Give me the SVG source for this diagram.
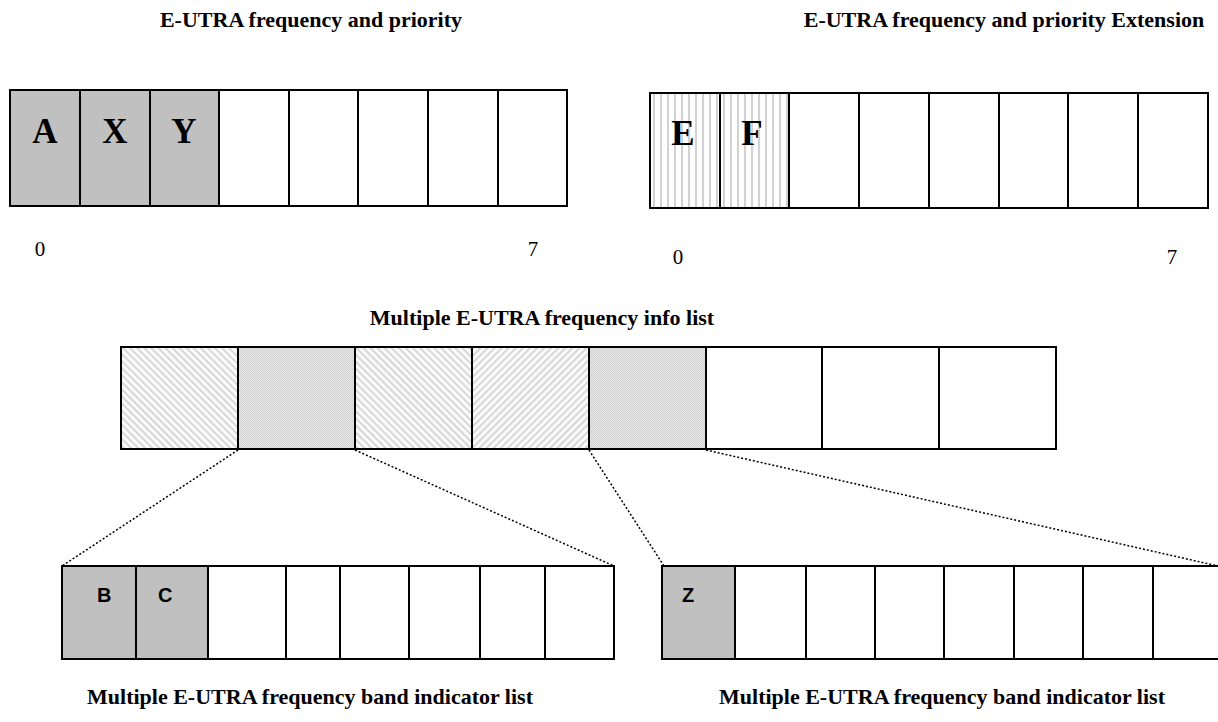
<svg xmlns="http://www.w3.org/2000/svg" width="1218" height="722" viewBox="0 0 1218 722">
<style>
.title{font-family:"Liberation Serif","Times New Roman",serif;font-weight:bold;font-size:22px;text-anchor:middle;fill:#000}
.big{font-family:"Liberation Serif","Times New Roman",serif;font-weight:bold;font-size:35px;text-anchor:middle;fill:#000}
.sans{font-family:"Liberation Sans",Arial,sans-serif;font-weight:bold;font-size:20px;fill:#000}
.num{font-family:"Liberation Serif","Times New Roman",serif;font-size:21px;text-anchor:middle;fill:#000}
.cell{stroke:#000;stroke-width:2;fill:#fff}
.grey{fill:#c0c0c0}
.vl{fill:url(#vlines)}
.da{fill:url(#diagA)}
.db{fill:url(#diagB)}
.dt{fill:url(#dots)}
.conn{stroke:#000;stroke-width:1.5;stroke-dasharray:2 2;fill:none}
</style>
<defs>
<pattern id="vlines" patternUnits="userSpaceOnUse" width="7" height="7">
<rect width="7" height="7" fill="#fff"/>
<rect x="2" y="0" width="2" height="7" fill="#d2d2d2"/>
</pattern>
<pattern id="diagA" patternUnits="userSpaceOnUse" width="5" height="5" patternTransform="rotate(-45)">
<rect width="5" height="5" fill="#fafafa"/>
<rect x="0" y="0" width="1.6" height="5" fill="#d0d0d0"/>
</pattern>
<pattern id="diagB" patternUnits="userSpaceOnUse" width="5" height="5" patternTransform="rotate(45)">
<rect width="5" height="5" fill="#fafafa"/>
<rect x="0" y="0" width="1.6" height="5" fill="#d0d0d0"/>
</pattern>
<pattern id="dots" patternUnits="userSpaceOnUse" width="2" height="2">
<rect width="2" height="2" fill="#ebebeb"/>
<rect x="0" y="0" width="1" height="1" fill="#cdcdcd"/>
<rect x="1" y="1" width="1" height="1" fill="#cdcdcd"/>
</pattern>
</defs>
<rect width="1218" height="722" fill="#fff"/>

<text class="title" x="311" y="27">E-UTRA frequency and priority</text>
<text class="title" x="1004" y="27">E-UTRA frequency and priority Extension</text>
<text class="title" x="542" y="325">Multiple E-UTRA frequency info list</text>
<text class="title" x="310" y="704">Multiple E-UTRA frequency band indicator list</text>
<text class="title" x="942" y="704">Multiple E-UTRA frequency band indicator list</text>

<g id="priority">
<rect class="cell grey" x="10" y="90" width="70" height="116"/>
<rect class="cell grey" x="80" y="90" width="70" height="116"/>
<rect class="cell grey" x="150" y="90" width="69" height="116"/>
<rect class="cell" x="219" y="90" width="70" height="116"/>
<rect class="cell" x="289" y="90" width="69" height="116"/>
<rect class="cell" x="358" y="90" width="70" height="116"/>
<rect class="cell" x="428" y="90" width="70" height="116"/>
<rect class="cell" x="498" y="90" width="69" height="116"/>
<text class="big" x="45" y="143">A</text>
<text class="big" x="115" y="143">X</text>
<text class="big" x="184" y="143">Y</text>
<text class="num" x="40" y="256">0</text>
<text class="num" x="533" y="256">7</text>
</g>

<g id="priority-ext">
<rect class="cell vl" x="650" y="93" width="70" height="115"/>
<rect class="cell vl" x="720" y="93" width="69" height="115"/>
<rect class="cell" x="789" y="93" width="70" height="115"/>
<rect class="cell" x="859" y="93" width="70" height="115"/>
<rect class="cell" x="929" y="93" width="70" height="115"/>
<rect class="cell" x="999" y="93" width="69" height="115"/>
<rect class="cell" x="1068" y="93" width="70" height="115"/>
<rect class="cell" x="1138" y="93" width="70" height="115"/>
<text class="big" x="683" y="145">E</text>
<text class="big" x="752" y="145">F</text>
<text class="num" x="678" y="264">0</text>
<text class="num" x="1172" y="264">7</text>
</g>

<g id="freq-info-list">
<rect class="cell da" x="121" y="347" width="117" height="102"/>
<rect class="cell dt" x="238" y="347" width="117" height="102"/>
<rect class="cell da" x="355" y="347" width="117" height="102"/>
<rect class="cell db" x="472" y="347" width="117" height="102"/>
<rect class="cell dt" x="589" y="347" width="117" height="102"/>
<rect class="cell" x="706" y="347" width="116" height="102"/>
<rect class="cell" x="822" y="347" width="117" height="102"/>
<rect class="cell" x="939" y="347" width="117" height="102"/>
</g>

<g id="connectors">
<line class="conn" x1="238" y1="450" x2="62" y2="566"/>
<line class="conn" x1="355" y1="450" x2="614" y2="566"/>
<line class="conn" x1="589" y1="450" x2="664" y2="566"/>
<line class="conn" x1="706" y1="450" x2="1218" y2="566"/>
</g>

<g id="band-list-1">
<rect class="cell grey" x="62" y="566" width="74" height="93"/>
<rect class="cell grey" x="136" y="566" width="72" height="93"/>
<rect class="cell" x="208" y="566" width="78" height="93"/>
<rect class="cell" x="286" y="566" width="54" height="93"/>
<rect class="cell" x="340" y="566" width="69" height="93"/>
<rect class="cell" x="409" y="566" width="71" height="93"/>
<rect class="cell" x="480" y="566" width="65" height="93"/>
<rect class="cell" x="545" y="566" width="69" height="93"/>
<text class="sans" x="97" y="602">B</text>
<text class="sans" x="158" y="602">C</text>
</g>

<g id="band-list-2">
<rect class="cell grey" x="662" y="566" width="73" height="93"/>
<rect class="cell" x="735" y="566" width="71" height="93"/>
<rect class="cell" x="806" y="566" width="69" height="93"/>
<rect class="cell" x="875" y="566" width="69" height="93"/>
<rect class="cell" x="944" y="566" width="70" height="93"/>
<rect class="cell" x="1014" y="566" width="69" height="93"/>
<rect class="cell" x="1083" y="566" width="70" height="93"/>
<path d="M1153 566 H1218 M1153 659 H1218" stroke="#000" stroke-width="2" fill="none"/>
<text class="sans" x="682" y="602">Z</text>
</g>
</svg>
